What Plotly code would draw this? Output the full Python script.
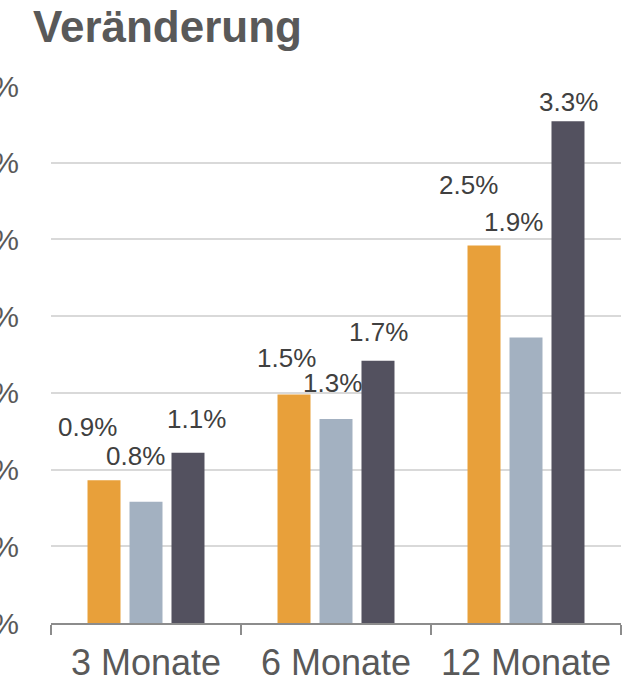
import plotly.graph_objects as go

categories = ["3 Monate", "6 Monate", "12 Monate"]
series_a = [0.93, 1.49, 2.46]   # orange
series_b = [0.79, 1.33, 1.86]   # light blue-grey
series_c = [1.11, 1.71, 3.27]   # dark
y_ticks = [0, 0.5, 1.0, 1.5, 2.0, 2.5, 3.0, 3.5]
y_tick_labels = ["0.0%", "0.5%", "1.0%", "1.5%", "2.0%", "2.5%", "3.0%", "3.5%"]
title_text = "Veränderung"

colors = ["#E8A03A", "#A3B1C1", "#53515F"]
series = [series_a, series_b, series_c]

# label offsets in pixels (dx, dy) per series per category
label_dx = [[-17, -7.5, -16], [-11, -3.5, -13], [8, 0, 0]]
label_dy = [[42, 25, 50], [35, 25, 105], [23, 18, 8]]
bar_shift = [-42, 0, 42]

FONT = "Liberation Sans, Arial, sans-serif"

fig = go.Figure()
for s, col in zip(series, colors):
    fig.add_trace(go.Bar(x=categories, y=s, marker=dict(color=col, line=dict(width=0)),
                         hoverinfo="skip"))

annotations = []
for si, s in enumerate(series):
    for ci, (cat, v) in enumerate(zip(categories, s)):
        annotations.append(dict(
            x=cat, y=v, xref="x", yref="y", text=f"{v:.1f}%",
            showarrow=False, xanchor="center", yanchor="bottom",
            xshift=bar_shift[si] + label_dx[si][ci], yshift=label_dy[si][ci] - 6,
            font=dict(family=FONT, size=26, color="#404040")))

annotations.append(dict(
    xref="paper", yref="paper", x=(31 - 51) / 570, y=1 + (86 - 43) / 537,
    text=f"<b>{title_text}</b>", showarrow=False,
    xanchor="left", yanchor="bottom", yshift=-10,
    font=dict(family=FONT, size=44, color="#595959")))

fig.update_layout(
    width=628, height=682,
    margin=dict(l=51, r=7, t=86, b=59, autoexpand=False),
    paper_bgcolor="white", plot_bgcolor="white",
    showlegend=False,
    barmode="group", bargap=0.337, bargroupgap=0.214,
    annotations=annotations,
    font=dict(family=FONT, color="#595959"),
)
fig.update_xaxes(
    showline=True, linecolor="#8C8C8C", linewidth=1.5,
    ticks="outside", tickson="boundaries", ticklen=10, tickcolor="#8C8C8C", tickwidth=1.5,
    tickfont=dict(family=FONT, size=36, color="#595959"),
    ticklabelstandoff=7,
    showgrid=False, automargin=False,
)
fig.update_yaxes(
    range=[0, 3.5], tickvals=y_ticks, ticktext=y_tick_labels,
    showgrid=True, gridcolor="#D9D9D9", gridwidth=1.5,
    zeroline=False, showline=False, ticks="",
    tickfont=dict(family=FONT, size=30, color="#595959"),
    ticklabelstandoff=31, automargin=False,
)
fig.write_html("out.html", config={"displayModeBar": False},
               post_script="document.body.style.margin='0';")
